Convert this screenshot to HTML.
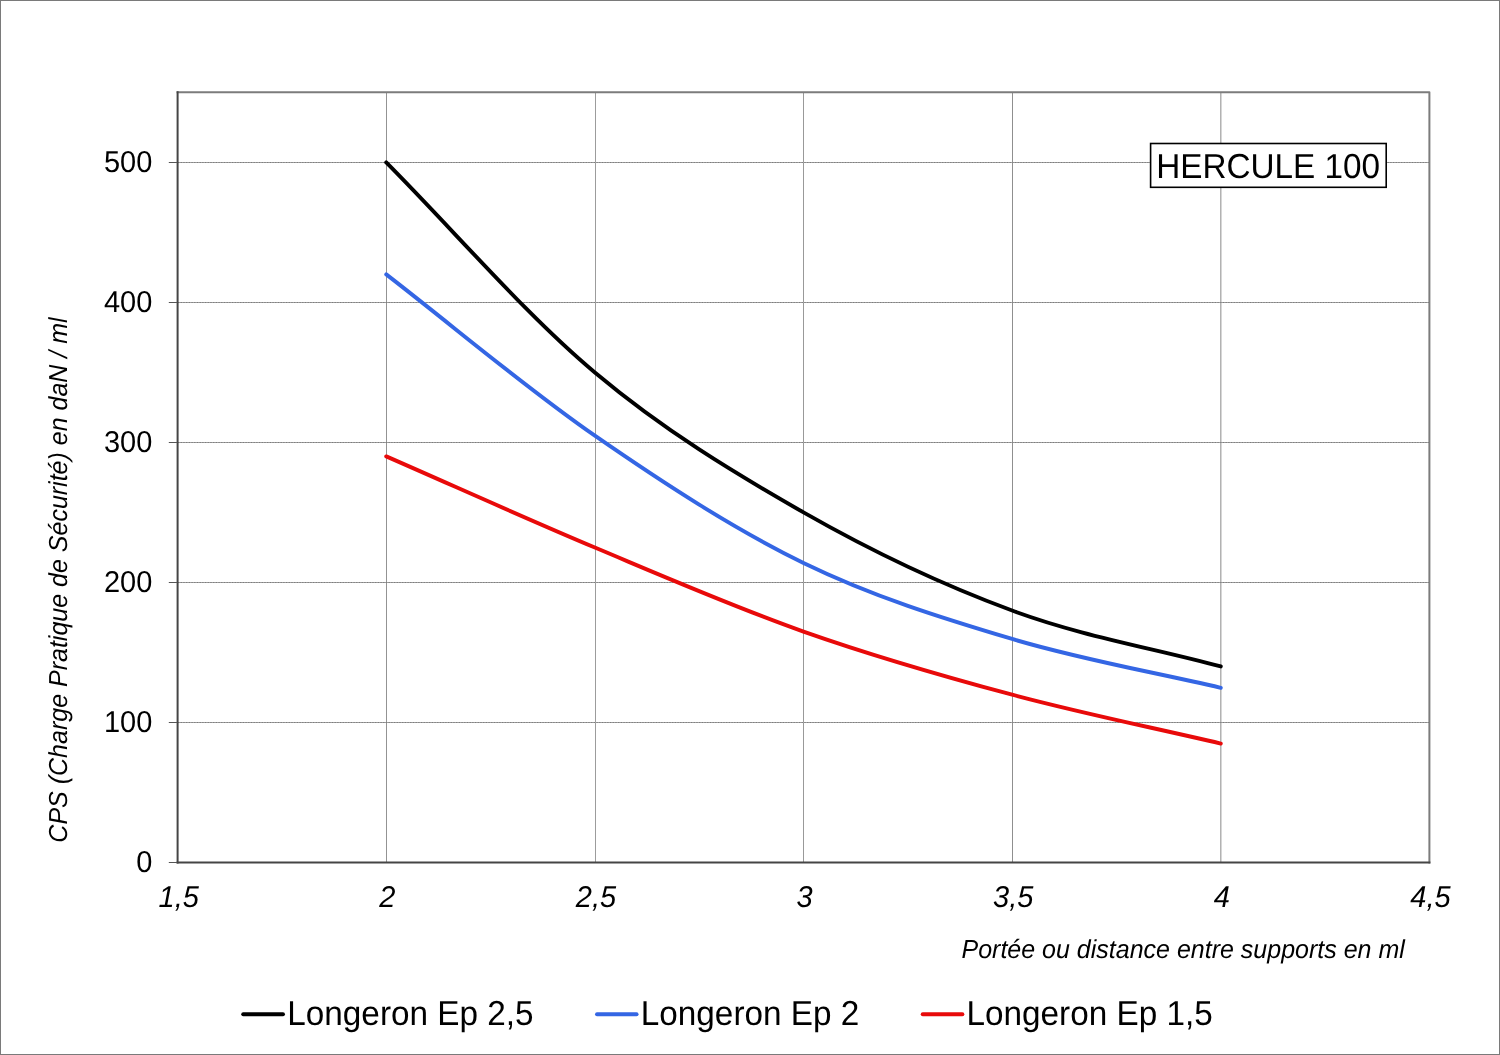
<!DOCTYPE html><html><head><meta charset="utf-8"><title>HERCULE 100</title><style>
html,body{margin:0;padding:0;background:#fff;}body{width:1500px;height:1055px;overflow:hidden;}
svg{display:block;font-family:"Liberation Sans",Arial,sans-serif;text-rendering:geometricPrecision;}
</style></head><body>
<svg width="1500" height="1055" viewBox="0 0 1500 1055">
<rect x="0" y="0" width="1500" height="1055" fill="#fff"/>
<rect x="0.5" y="0.5" width="1499" height="1054" fill="none" stroke="#7a7a7a" stroke-width="1"/>
<line x1="386.50" y1="92" x2="386.50" y2="862" stroke="#939393" stroke-width="1"/>
<line x1="595.50" y1="92" x2="595.50" y2="862" stroke="#9c9c9c" stroke-width="1"/>
<line x1="803.50" y1="92" x2="803.50" y2="862" stroke="#999999" stroke-width="1"/>
<line x1="1012.50" y1="92" x2="1012.50" y2="862" stroke="#8f8f8f" stroke-width="1"/>
<line x1="1220.85" y1="92" x2="1220.85" y2="862" stroke="#8a8a8a" stroke-width="1"/>
<line x1="178" y1="162.5" x2="1429" y2="162.5" stroke="#a2a2a2" stroke-width="1"/>
<line x1="178" y1="162.5" x2="1429" y2="162.5" stroke="#7c7c7c" stroke-width="1" stroke-dasharray="1.2 1.5"/>
<line x1="178" y1="302.5" x2="1429" y2="302.5" stroke="#a2a2a2" stroke-width="1"/>
<line x1="178" y1="302.5" x2="1429" y2="302.5" stroke="#7c7c7c" stroke-width="1" stroke-dasharray="1.2 1.5"/>
<line x1="178" y1="442.5" x2="1429" y2="442.5" stroke="#a2a2a2" stroke-width="1"/>
<line x1="178" y1="442.5" x2="1429" y2="442.5" stroke="#7c7c7c" stroke-width="1" stroke-dasharray="1.2 1.5"/>
<line x1="178" y1="582.5" x2="1429" y2="582.5" stroke="#a2a2a2" stroke-width="1"/>
<line x1="178" y1="582.5" x2="1429" y2="582.5" stroke="#7c7c7c" stroke-width="1" stroke-dasharray="1.2 1.5"/>
<line x1="178" y1="722.5" x2="1429" y2="722.5" stroke="#a2a2a2" stroke-width="1"/>
<line x1="178" y1="722.5" x2="1429" y2="722.5" stroke="#7c7c7c" stroke-width="1" stroke-dasharray="1.2 1.5"/>
<path d="M176.6 92.3 H1429.4 V863.4" fill="none" stroke="#7c7c7c" stroke-width="2" stroke-linejoin="round"/>
<line x1="177.6" y1="91.3" x2="177.6" y2="863.4" stroke="#454545" stroke-width="2"/>
<line x1="176.6" y1="862.4" x2="1430.4" y2="862.4" stroke="#454545" stroke-width="2"/>
<line x1="168.8" y1="162.5" x2="177" y2="162.5" stroke="#555" stroke-width="1"/>
<line x1="168.8" y1="302.5" x2="177" y2="302.5" stroke="#555" stroke-width="1"/>
<line x1="168.8" y1="442.5" x2="177" y2="442.5" stroke="#555" stroke-width="1"/>
<line x1="168.8" y1="582.5" x2="177" y2="582.5" stroke="#555" stroke-width="1"/>
<line x1="168.8" y1="722.5" x2="177" y2="722.5" stroke="#555" stroke-width="1"/>
<line x1="168.8" y1="862.5" x2="177" y2="862.5" stroke="#555" stroke-width="1"/>
<text transform="translate(152.30 172.00) scale(1 1.040)" font-size="29" text-anchor="end">500</text>
<text transform="translate(152.30 312.00) scale(1 1.040)" font-size="29" text-anchor="end">400</text>
<text transform="translate(152.30 452.00) scale(1 1.040)" font-size="29" text-anchor="end">300</text>
<text transform="translate(152.30 592.00) scale(1 1.040)" font-size="29" text-anchor="end">200</text>
<text transform="translate(152.30 732.00) scale(1 1.040)" font-size="29" text-anchor="end">100</text>
<text transform="translate(152.30 872.00) scale(1 1.040)" font-size="29" text-anchor="end">0</text>
<text transform="translate(178.70 906.60) scale(1 1.040)" font-size="29" text-anchor="middle" font-style="italic">1,5</text>
<text transform="translate(387.33 906.60) scale(1 1.040)" font-size="29" text-anchor="middle" font-style="italic">2</text>
<text transform="translate(595.97 906.60) scale(1 1.040)" font-size="29" text-anchor="middle" font-style="italic">2,5</text>
<text transform="translate(804.60 906.60) scale(1 1.040)" font-size="29" text-anchor="middle" font-style="italic">3</text>
<text transform="translate(1013.23 906.60) scale(1 1.040)" font-size="29" text-anchor="middle" font-style="italic">3,5</text>
<text transform="translate(1221.87 906.60) scale(1 1.040)" font-size="29" text-anchor="middle" font-style="italic">4</text>
<text transform="translate(1430.50 906.60) scale(1 1.040)" font-size="29" text-anchor="middle" font-style="italic">4,5</text>
<path d="M386.23 162.40 C455.78 232.45 525.32 314.21 594.87 372.54 C664.41 430.87 733.96 472.73 803.50 512.40 C873.04 552.07 942.59 584.87 1012.13 610.54 C1081.68 636.21 1151.22 647.78 1220.77 666.40" fill="none" stroke="#000000" stroke-width="3.90" stroke-linecap="round" stroke-linejoin="round"/>
<path d="M386.23 274.40 C455.78 328.16 525.32 387.59 594.87 435.68 C664.41 483.77 733.96 529.06 803.50 562.94 C873.04 596.82 942.59 618.15 1012.13 638.96 C1081.68 659.77 1151.22 671.53 1220.77 687.82" fill="none" stroke="#3466e4" stroke-width="3.90" stroke-linecap="round" stroke-linejoin="round"/>
<path d="M386.23 456.40 C455.78 486.78 525.32 518.35 594.87 547.54 C664.41 576.73 733.96 607.02 803.50 631.54 C873.04 656.06 942.59 676.01 1012.13 694.68 C1081.68 713.35 1151.22 727.25 1220.77 743.54" fill="none" stroke="#e80a0a" stroke-width="3.90" stroke-linecap="round" stroke-linejoin="round"/>
<rect x="1150.6" y="143.5" width="235.6" height="43.8" fill="#fff" stroke="#000" stroke-width="1.6"/>
<text transform="translate(1156.20 177.90) scale(1 1.040)" font-size="33.3">HERCULE 100</text>
<text transform="translate(67.20 580.00) rotate(-90) scale(1 1.040)" font-size="25" text-anchor="middle" font-style="italic">CPS (Charge Pratique de Sécurité) en daN / ml</text>
<text transform="translate(961.50 957.60) scale(1 1.040)" font-size="25" font-style="italic">Portée ou distance entre supports en ml</text>
<line x1="243.2" y1="1014.3" x2="283.0" y2="1014.3" stroke="#000000" stroke-width="3.90" stroke-linecap="round"/>
<text transform="translate(287.30 1024.80) scale(1 1.040)" font-size="33.3">Longeron Ep 2,5</text>
<line x1="597.0" y1="1014.3" x2="636.6" y2="1014.3" stroke="#3466e4" stroke-width="3.90" stroke-linecap="round"/>
<text transform="translate(640.80 1024.80) scale(1 1.040)" font-size="33.3">Longeron Ep 2</text>
<line x1="922.7" y1="1014.3" x2="962.4" y2="1014.3" stroke="#e80a0a" stroke-width="3.90" stroke-linecap="round"/>
<text transform="translate(966.50 1024.80) scale(1 1.040)" font-size="33.3">Longeron Ep 1,5</text>
</svg></body></html>
